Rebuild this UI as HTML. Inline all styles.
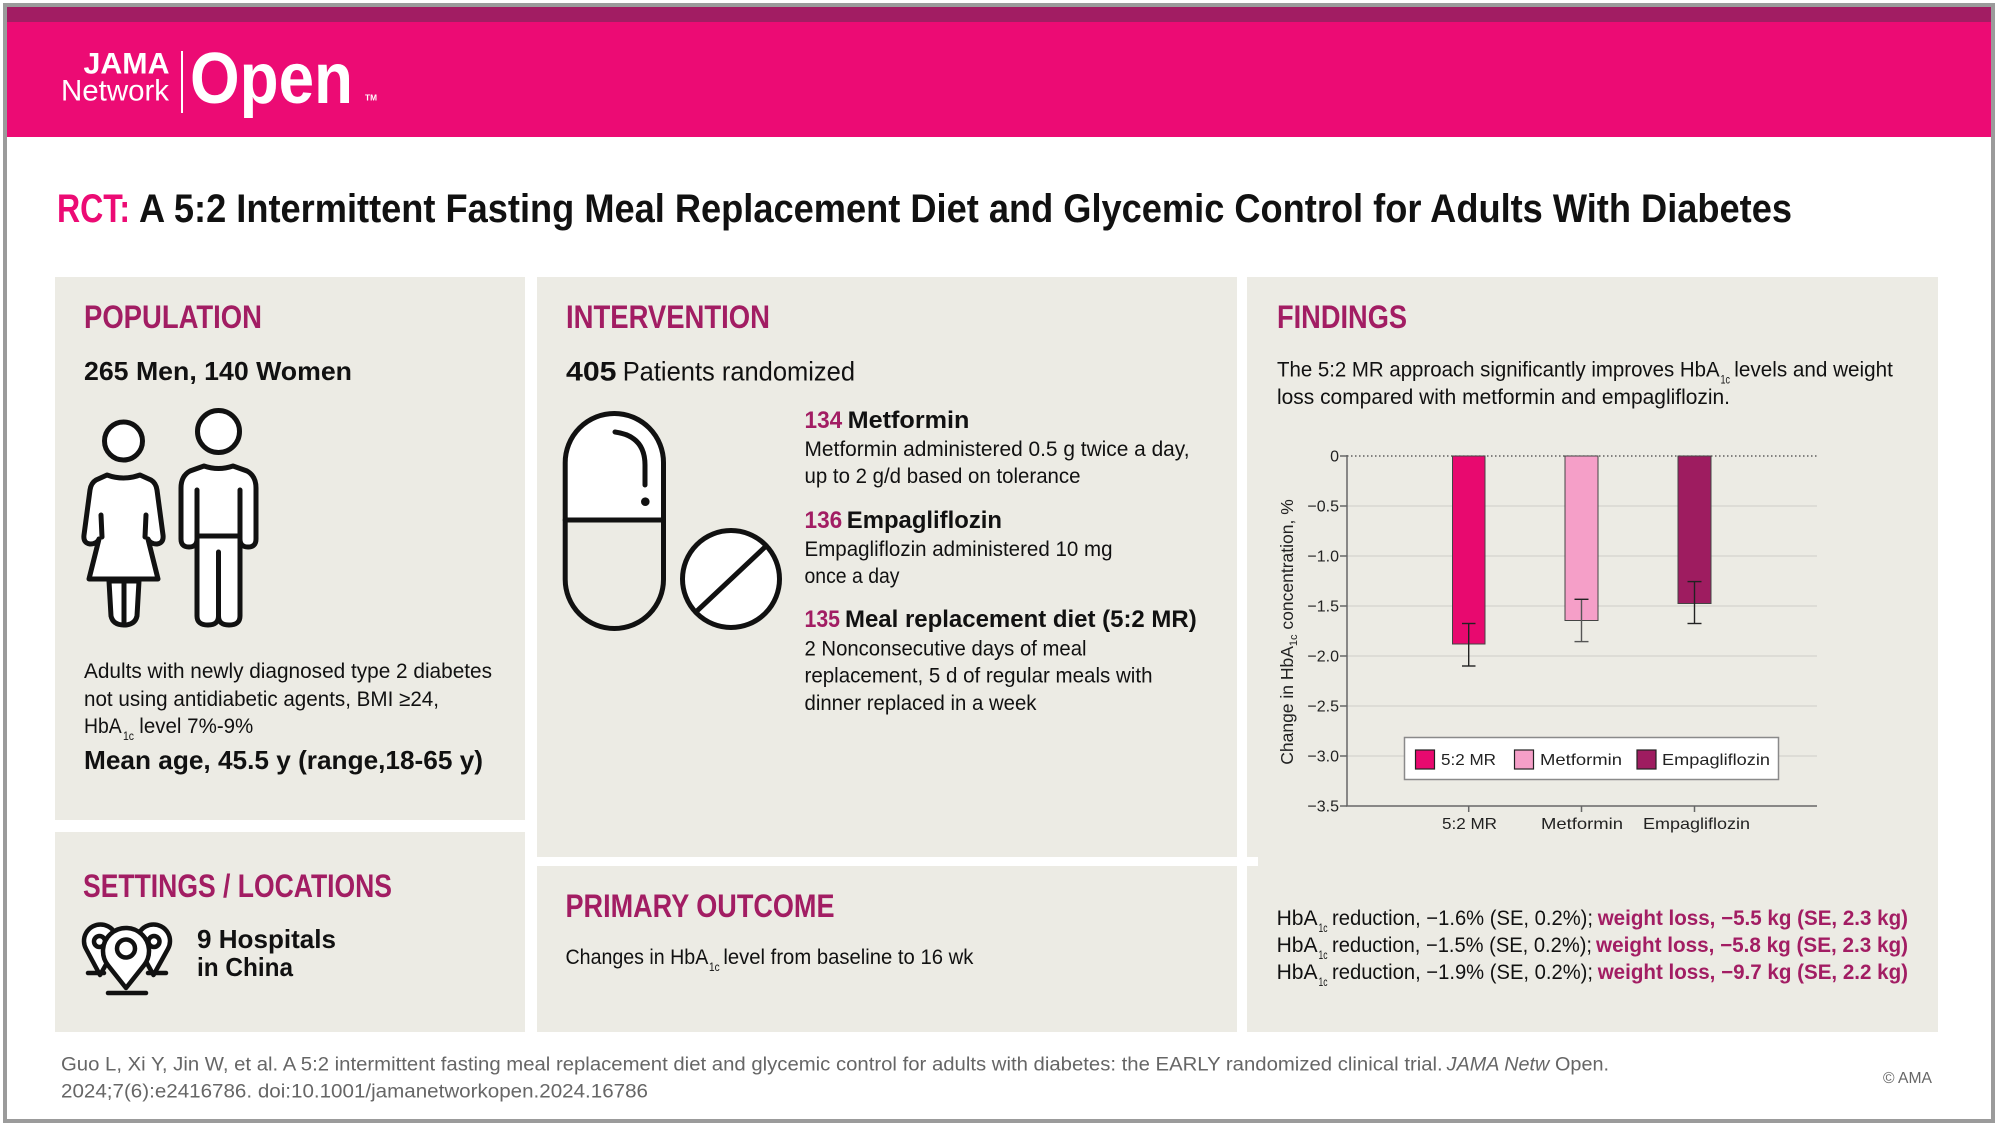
<!DOCTYPE html>
<html>
<head>
<meta charset="utf-8">
<style>
html,body{margin:0;padding:0;background:#fff;}
body{width:2000px;height:1128px;overflow:hidden;}
svg{display:block;}
</style>
</head>
<body>
<svg xmlns="http://www.w3.org/2000/svg" width="2000" height="1128" viewBox="0 0 2000 1128" font-family="'Liberation Sans', Arial, sans-serif">
<rect width="2000" height="1128" fill="#fff"/>
<!-- header band -->
<rect x="7" y="7" width="1984" height="15" fill="#a21d63"/>
<rect x="7" y="22" width="1984" height="115" fill="#ec0b74"/>
<rect x="5" y="5" width="1988" height="1116" fill="none" stroke="#9b9b9b" stroke-width="4"/>

<!-- logo -->
<text x="83.5" y="73.5" font-size="30" font-weight="bold" fill="#fff" textLength="86" lengthAdjust="spacingAndGlyphs">JAMA</text>
<text x="61" y="100.5" font-size="30" fill="#fff" textLength="108" lengthAdjust="spacingAndGlyphs">Network</text>
<rect x="181" y="51" width="2" height="62" fill="#fff"/>
<text x="190" y="103" font-size="72" font-weight="bold" fill="#fff" textLength="163" lengthAdjust="spacingAndGlyphs">Open</text>
<text x="365" y="100.5" font-size="8" font-weight="bold" fill="#fff" textLength="12" lengthAdjust="spacingAndGlyphs">TM</text>

<!-- title -->
<text x="57" y="222" font-size="40" font-weight="bold" fill="#ec0b74" textLength="73" lengthAdjust="spacingAndGlyphs">RCT:</text>
<text x="139" y="222" font-size="40" font-weight="bold" fill="#111" textLength="1653" lengthAdjust="spacingAndGlyphs">A 5:2 Intermittent Fasting Meal Replacement Diet and Glycemic Control for Adults With Diabetes</text>

<!-- panels -->
<g fill="#ecebe4">
<rect x="55" y="277" width="470" height="543"/>
<rect x="55" y="832" width="470" height="200"/>
<rect x="537" y="277" width="700" height="580"/>
<rect x="537" y="866" width="700" height="166"/>
<rect x="1247" y="277" width="691" height="755"/>
</g>
<rect x="1237" y="857" width="21" height="9" fill="#fff"/>

<!-- headers -->
<g font-size="32" font-weight="bold" fill="#a21d63">
<text x="84" y="328" textLength="178" lengthAdjust="spacingAndGlyphs">POPULATION</text>
<text x="566" y="328" textLength="204" lengthAdjust="spacingAndGlyphs">INTERVENTION</text>
<text x="1277" y="328" textLength="130" lengthAdjust="spacingAndGlyphs">FINDINGS</text>
<text x="83" y="897" textLength="309" lengthAdjust="spacingAndGlyphs">SETTINGS / LOCATIONS</text>
<text x="565.5" y="917" textLength="269" lengthAdjust="spacingAndGlyphs">PRIMARY OUTCOME</text>
</g>

<!-- population -->
<text x="84" y="380" font-size="26" font-weight="bold" fill="#111" textLength="268" lengthAdjust="spacingAndGlyphs">265 Men, 140 Women</text>
<g stroke="#111" stroke-width="5" stroke-linejoin="round" stroke-linecap="round" fill="#fff">
  <!-- woman -->
  <circle cx="123.5" cy="441" r="19"/>
  <path d="M109,581 L111,616 Q113,625 124,625 Q135,625 137,616 L139,581 Z"/>
  <path d="M124,581 L124,625" fill="none"/>
  <path d="M107,475 Q123.5,481 140,475 L151,480 Q156,483 157,490 L163,535 Q164,543 157,544 Q150,544 148,539 L158,579 L89,579 L99,539 Q97,544 90,544 Q83,543 84,535 L90,490 Q91,483 96,480 Z"/>
  <path d="M101,515 L102,537 M146,515 L145,537" fill="none"/>
  <!-- man -->
  <circle cx="218.5" cy="431.5" r="21"/>
  <path d="M204,466 Q218.5,471 233,466 L247,471 Q256,476 256,488 L256,539 Q256,547 248,547 Q240,547 240,539 L240,616 Q240,625 229,625 Q218.5,625 218.5,616 Q218.5,625 208,625 Q197,625 197,616 L197,539 Q197,547 189,547 Q181,547 181,539 L181,488 Q181,476 190,471 Z"/>
  <path d="M197,490 L197,539 M240,490 L240,539 M197,536 L240,536 M218.5,552 L218.5,616" fill="none"/>
</g>
<g font-size="21" fill="#111">
<text x="84" y="678" textLength="408" lengthAdjust="spacingAndGlyphs">Adults with newly diagnosed type 2 diabetes</text>
<text x="84" y="706" textLength="355" lengthAdjust="spacingAndGlyphs">not using antidiabetic agents, BMI ≥24,</text>
<text x="84" y="733" textLength="37.7" lengthAdjust="spacingAndGlyphs">HbA</text>
<text x="123" y="740" font-size="12" textLength="11" lengthAdjust="spacingAndGlyphs">1c</text>
<text x="139.3" y="733" textLength="114" lengthAdjust="spacingAndGlyphs">level 7%-9%</text>
</g>
<text x="84" y="769" font-size="26" font-weight="bold" fill="#111" textLength="399" lengthAdjust="spacingAndGlyphs">Mean age, 45.5 y (range,18-65 y)</text>

<!-- settings -->
<g stroke="#111" stroke-width="4.5" stroke-linejoin="round" stroke-linecap="round" fill="#fff">
  <path d="M100,975 L86.1,949 A16.5,16.5 0 1 1 114.9,949 Z"/>
  <circle cx="99.5" cy="941.5" r="5.5"/>
  <path d="M153.5,975 L139.1,949 A16.5,16.5 0 1 1 167.9,949 Z"/>
  <circle cx="154" cy="941.5" r="5.5"/>
  <path d="M88,973 L104,973 M148,973 L166,973" fill="none"/>
  <path d="M126,988 L108,965.3 A23,23 0 1 1 144,965.3 Z"/>
  <circle cx="126" cy="948.5" r="9"/>
  <path d="M108,993 L146,993" fill="none"/>
</g>
<g font-size="26" font-weight="bold" fill="#111">
<text x="197" y="948" textLength="139" lengthAdjust="spacingAndGlyphs">9 Hospitals</text>
<text x="197" y="976" textLength="96" lengthAdjust="spacingAndGlyphs">in China</text>
</g>

<!-- intervention -->
<text x="566" y="380.5" font-size="27" font-weight="bold" fill="#111" textLength="50.5" lengthAdjust="spacingAndGlyphs">405</text>
<text x="622.7" y="380.5" font-size="27" fill="#111" textLength="232.3" lengthAdjust="spacingAndGlyphs">Patients randomized</text>
<g stroke="#111" stroke-width="5" stroke-linecap="round" stroke-linejoin="round">
  <path d="M565.2,520 L565.2,462.5 A49.15,49.15 0 0 1 663.5,462.5 L663.5,520 Z" fill="#fff" stroke="none"/>
  <rect x="565.2" y="413.5" width="98.3" height="215" rx="49.15" ry="49.15" fill="none"/>
  <path d="M565.2,520 L663.5,520" fill="none"/>
  <path d="M615,432 Q645,436 645,465 L645,485" fill="none"/>
  <circle cx="645.3" cy="501.7" r="1.8" fill="#111"/>
  <circle cx="731" cy="579" r="48.5" fill="#fff"/>
  <path d="M766.3,545.8 L695.7,612.2" fill="none"/>
</g>
<g font-size="24" font-weight="bold">
<text x="804.5" y="428" fill="#a21d63" textLength="37.7" lengthAdjust="spacingAndGlyphs">134</text>
<text x="847.7" y="428" fill="#111" textLength="121.7" lengthAdjust="spacingAndGlyphs">Metformin</text>
<text x="804.5" y="528" fill="#a21d63" textLength="37.7" lengthAdjust="spacingAndGlyphs">136</text>
<text x="846.8" y="528" fill="#111" textLength="155.2" lengthAdjust="spacingAndGlyphs">Empagliflozin</text>
<text x="804.5" y="627" fill="#a21d63" textLength="35.5" lengthAdjust="spacingAndGlyphs">135</text>
<text x="845" y="627" fill="#111" textLength="351.7" lengthAdjust="spacingAndGlyphs">Meal replacement diet (5:2 MR)</text>
</g>
<g font-size="21" fill="#111">
<text x="804.5" y="456" textLength="385" lengthAdjust="spacingAndGlyphs">Metformin administered 0.5 g twice a day,</text>
<text x="804.5" y="483" textLength="276" lengthAdjust="spacingAndGlyphs">up to 2 g/d based on tolerance</text>
<text x="804.5" y="556" textLength="308" lengthAdjust="spacingAndGlyphs">Empagliflozin administered 10 mg</text>
<text x="804.5" y="583" textLength="95" lengthAdjust="spacingAndGlyphs">once a day</text>
<text x="804.5" y="655.5" textLength="282" lengthAdjust="spacingAndGlyphs">2 Nonconsecutive days of meal</text>
<text x="804.5" y="682.5" textLength="348" lengthAdjust="spacingAndGlyphs">replacement, 5 d of regular meals with</text>
<text x="804.5" y="710" textLength="232" lengthAdjust="spacingAndGlyphs">dinner replaced in a week</text>
</g>

<!-- primary outcome -->
<g font-size="21" fill="#111">
<text x="565.5" y="964" textLength="142.8" lengthAdjust="spacingAndGlyphs">Changes in HbA</text>
<text x="709" y="971" font-size="12" textLength="10.6" lengthAdjust="spacingAndGlyphs">1c</text>
<text x="723.4" y="964" textLength="250" lengthAdjust="spacingAndGlyphs">level from baseline to 16 wk</text>
</g>

<!-- findings text -->
<g font-size="21" fill="#111">
<text x="1277" y="376.5" textLength="442.6" lengthAdjust="spacingAndGlyphs">The 5:2 MR approach significantly improves HbA</text>
<text x="1720.5" y="383.5" font-size="12" textLength="9.5" lengthAdjust="spacingAndGlyphs">1c</text>
<text x="1734.3" y="376.5" textLength="158.6" lengthAdjust="spacingAndGlyphs">levels and weight</text>
<text x="1277" y="404" textLength="453" lengthAdjust="spacingAndGlyphs">loss compared with metformin and empagliflozin.</text>
</g>

<!-- chart -->
<g stroke="#d4d3ce" stroke-width="1.3">
<line x1="1347" y1="506" x2="1817" y2="506"/>
<line x1="1347" y1="556" x2="1817" y2="556"/>
<line x1="1347" y1="606" x2="1817" y2="606"/>
<line x1="1347" y1="656" x2="1817" y2="656"/>
<line x1="1347" y1="706" x2="1817" y2="706"/>
<line x1="1347" y1="756" x2="1817" y2="756"/>
</g>
<line x1="1347" y1="456" x2="1817" y2="456" stroke="#444" stroke-width="1.3" stroke-dasharray="1.5 2.5"/>
<g stroke="#666" stroke-width="1.5">
<line x1="1347" y1="455" x2="1347" y2="806"/>
<line x1="1346" y1="806" x2="1817" y2="806"/>
<line x1="1340" y1="456" x2="1347" y2="456"/>
<line x1="1340" y1="506" x2="1347" y2="506"/>
<line x1="1340" y1="556" x2="1347" y2="556"/>
<line x1="1340" y1="606" x2="1347" y2="606"/>
<line x1="1340" y1="656" x2="1347" y2="656"/>
<line x1="1340" y1="706" x2="1347" y2="706"/>
<line x1="1340" y1="756" x2="1347" y2="756"/>
<line x1="1340" y1="806" x2="1347" y2="806"/>
<line x1="1468.7" y1="806" x2="1468.7" y2="812"/>
<line x1="1581.5" y1="806" x2="1581.5" y2="812"/>
<line x1="1694.5" y1="806" x2="1694.5" y2="812"/>
</g>
<g font-size="16" fill="#222" text-anchor="end">
<text x="1339" y="461.5">0</text>
<text x="1339" y="511.5">−0.5</text>
<text x="1339" y="561.5">−1.0</text>
<text x="1339" y="611.5">−1.5</text>
<text x="1339" y="661.5">−2.0</text>
<text x="1339" y="711.5">−2.5</text>
<text x="1339" y="761.5">−3.0</text>
<text x="1339" y="811.5">−3.5</text>
</g>
<text transform="translate(1293,632) rotate(-90)" text-anchor="middle" font-size="17.5" fill="#222">Change in HbA<tspan font-size="11" dy="4">1c</tspan><tspan dy="-4"> concentration, %</tspan></text>

<!-- bars -->
<rect x="1452.5" y="456" width="32.5" height="188" fill="#e8096f" stroke="#444" stroke-width="1"/>
<rect x="1565" y="456" width="33" height="164.5" fill="#f59fc8" stroke="#444" stroke-width="1"/>
<rect x="1678" y="456" width="33" height="147.5" fill="#9e1c60" stroke="#444" stroke-width="1"/>
<g stroke="#222" stroke-width="1.4">
<line x1="1468.7" y1="623.5" x2="1468.7" y2="666"/>
<line x1="1462" y1="623.5" x2="1475.5" y2="623.5"/>
<line x1="1462" y1="666" x2="1475.5" y2="666"/>
<line x1="1581.5" y1="599.3" x2="1581.5" y2="641.6" stroke="#555"/>
<line x1="1574.5" y1="599.3" x2="1588.5" y2="599.3"/>
<line x1="1574.5" y1="641.6" x2="1588.5" y2="641.6" stroke="#555"/>
<line x1="1694.5" y1="581.6" x2="1694.5" y2="623.5"/>
<line x1="1687.5" y1="581.6" x2="1701.5" y2="581.6"/>
<line x1="1687.5" y1="623.5" x2="1701.5" y2="623.5"/>
</g>

<!-- legend -->
<rect x="1404.5" y="737.5" width="374" height="42" fill="#fff" stroke="#8a8a8a" stroke-width="1.5"/>
<rect x="1415.5" y="750" width="19" height="19" fill="#e8096f" stroke="#222" stroke-width="1.2"/>
<rect x="1514.5" y="750" width="19" height="19" fill="#f59fc8" stroke="#222" stroke-width="1.2"/>
<rect x="1637" y="750" width="19" height="19" fill="#9e1c60" stroke="#222" stroke-width="1.2"/>
<g font-size="16" fill="#222">
<text x="1441" y="765" textLength="55" lengthAdjust="spacingAndGlyphs">5:2 MR</text>
<text x="1540" y="765" textLength="82" lengthAdjust="spacingAndGlyphs">Metformin</text>
<text x="1662" y="765" textLength="108" lengthAdjust="spacingAndGlyphs">Empagliflozin</text>
<text x="1442" y="829" textLength="55" lengthAdjust="spacingAndGlyphs">5:2 MR</text>
<text x="1541" y="829" textLength="82" lengthAdjust="spacingAndGlyphs">Metformin</text>
<text x="1643" y="829" textLength="107" lengthAdjust="spacingAndGlyphs">Empagliflozin</text>
</g>

<!-- findings bottom -->
<g font-size="21" fill="#111">
<text x="1276.6" y="925" textLength="41" lengthAdjust="spacingAndGlyphs">HbA</text>
<text x="1318.5" y="932" font-size="12" textLength="9" lengthAdjust="spacingAndGlyphs">1c</text>
<text x="1332" y="925" textLength="261" lengthAdjust="spacingAndGlyphs">reduction, −1.6% (SE, 0.2%);</text>
<text x="1597.7" y="925" font-weight="bold" fill="#a21d63" textLength="310.3" lengthAdjust="spacingAndGlyphs">weight loss, −5.5 kg (SE, 2.3 kg)</text>

<text x="1276.6" y="952" textLength="41" lengthAdjust="spacingAndGlyphs">HbA</text>
<text x="1318.5" y="959" font-size="12" textLength="9" lengthAdjust="spacingAndGlyphs">1c</text>
<text x="1332" y="952" textLength="260" lengthAdjust="spacingAndGlyphs">reduction, −1.5% (SE, 0.2%);</text>
<text x="1596" y="952" font-weight="bold" fill="#a21d63" textLength="312" lengthAdjust="spacingAndGlyphs">weight loss, −5.8 kg (SE, 2.3 kg)</text>

<text x="1276.6" y="979" textLength="41" lengthAdjust="spacingAndGlyphs">HbA</text>
<text x="1318.5" y="986" font-size="12" textLength="9" lengthAdjust="spacingAndGlyphs">1c</text>
<text x="1332" y="979" textLength="261" lengthAdjust="spacingAndGlyphs">reduction, −1.9% (SE, 0.2%);</text>
<text x="1597.7" y="979" font-weight="bold" fill="#a21d63" textLength="310.3" lengthAdjust="spacingAndGlyphs">weight loss, −9.7 kg (SE, 2.2 kg)</text>
</g>

<!-- footer -->
<g font-size="19" fill="#666">
<text x="61" y="1070.5" textLength="1381.7" lengthAdjust="spacingAndGlyphs">Guo L, Xi Y, Jin W, et al. A 5:2 intermittent fasting meal replacement diet and glycemic control for adults with diabetes: the EARLY randomized clinical trial.</text>
<text x="1446.7" y="1070.5" font-style="italic" textLength="102.6" lengthAdjust="spacingAndGlyphs">JAMA Netw</text>
<text x="1555" y="1070.5" textLength="54" lengthAdjust="spacingAndGlyphs">Open.</text>
<text x="61" y="1097.5" textLength="587" lengthAdjust="spacingAndGlyphs">2024;7(6):e2416786. doi:10.1001/jamanetworkopen.2024.16786</text>
</g>
<text x="1883" y="1083" font-size="16" fill="#666" textLength="49" lengthAdjust="spacingAndGlyphs">© AMA</text>
</svg>
</body>
</html>
